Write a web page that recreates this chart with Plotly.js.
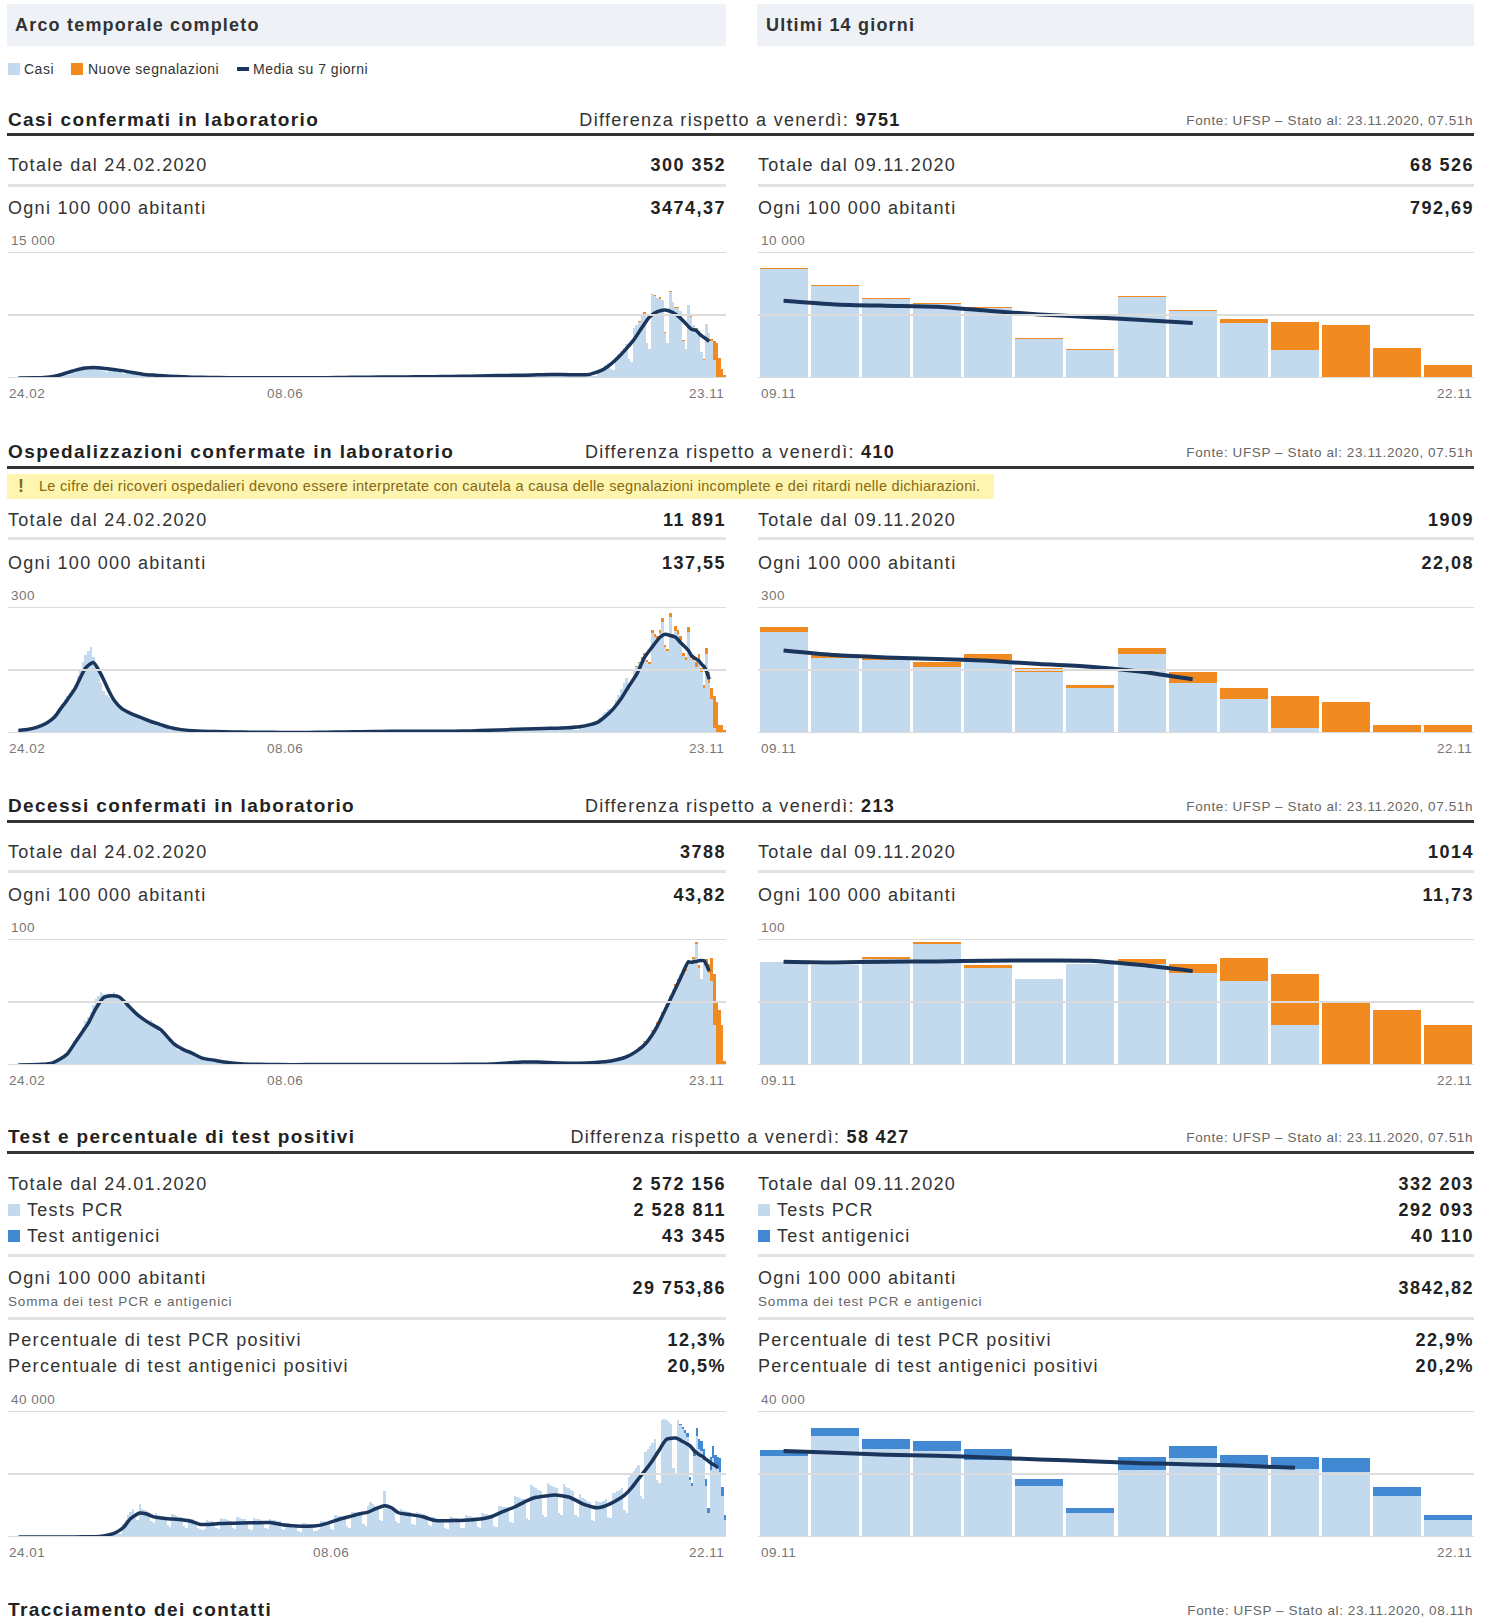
<!DOCTYPE html>
<html lang="it"><head><meta charset="utf-8">
<script src="https://cdn.plot.ly/plotly-3.0.1.min.js"></script>
<style>
html,body{margin:0;padding:0;background:#fff}
body{position:relative;width:1487px;height:1621px;overflow:hidden;font-family:'Liberation Sans',Arial,Helvetica,sans-serif;color:#333}
.a{position:absolute;white-space:nowrap}
.hdr{top:4px;height:42px;background:#eef2f6}
.ht{font-weight:bold;font-size:18px;line-height:22px;letter-spacing:1.2px;color:#333;top:14px}
.st{font-weight:bold;font-size:19px;line-height:22px;letter-spacing:1.4px;color:#222;left:8px}
.df{font-size:18px;line-height:22px;letter-spacing:1.3px;left:0;width:1480px;text-align:center;color:#333}
.df b{color:#222}
.src{font-size:13.5px;line-height:22px;letter-spacing:.6px;color:#666;right:14px}
.rule{left:7px;width:1467px;height:3px;background:#333}
.lb{font-size:18px;line-height:22px;letter-spacing:1.3px;color:#333}
.v{font-weight:bold;font-size:18px;line-height:22px;letter-spacing:1.5px;color:#222;text-align:right}
.vl{right:761px}
.vr{right:13px}
.L{left:8px}
.R{left:758px}
.sep{height:3px;background:#e3e3e3}
.sepL{left:8px;width:718px}
.sepR{left:758px;width:716px}
.sm{font-size:13.5px;line-height:18px;letter-spacing:.85px;color:#666}
.lg{font-size:14px;line-height:22px;letter-spacing:.5px;color:#333;top:58px}
.chart{position:absolute;height:174px}
.cL{left:8px;width:718px}
.cR{left:758px;width:716px}
.sq{width:12px;height:12px}
.warn{left:7px;top:474px;width:987px;height:25px;background:#fdf5b0}
.wt{font-size:14.5px;line-height:25px;letter-spacing:.3px;color:#876913;top:474px}
.annotation-text{letter-spacing:.5px}
</style>
</head>
<body>
<!-- headers -->
<div class="a hdr" style="left:7px;width:719px"></div>
<div class="a hdr" style="left:757px;width:717px"></div>
<div class="a ht" style="left:15px">Arco temporale completo</div>
<div class="a ht" style="left:766px">Ultimi 14 giorni</div>

<!-- legend -->
<div class="a sq" style="left:8px;top:63px;background:#c3d9ee"></div>
<div class="a lg" style="left:24px">Casi</div>
<div class="a sq" style="left:71px;top:63px;background:#f08a21"></div>
<div class="a lg" style="left:88px">Nuove segnalazioni</div>
<div class="a" style="left:237px;top:67px;width:12px;height:4px;background:#1b365d"></div>
<div class="a lg" style="left:253px">Media su 7 giorni</div>

<!-- Section 1 -->
<div class="a st" style="top:109px">Casi confermati in laboratorio</div>
<div class="a df" style="top:109px">Differenza rispetto a venerdì: <b>9751</b></div>
<div class="a src" style="top:110px">Fonte: UFSP – Stato al: 23.11.2020, 07.51h</div>
<div class="a rule" style="top:133px"></div>
<div class="a lb L" style="top:154px">Totale dal 24.02.2020</div>
<div class="a v vl" style="top:154px">300 352</div>
<div class="a lb R" style="top:154px">Totale dal 09.11.2020</div>
<div class="a v vr" style="top:154px">68 526</div>
<div class="a sep sepL" style="top:183.5px"></div>
<div class="a sep sepR" style="top:183.5px"></div>
<div class="a lb L" style="top:197px">Ogni 100 000 abitanti</div>
<div class="a v vl" style="top:197px">3474,37</div>
<div class="a lb R" style="top:197px">Ogni 100 000 abitanti</div>
<div class="a v vr" style="top:197px">792,69</div>
<div id="c1L" class="chart cL" style="top:230px"></div>
<div id="c1R" class="chart cR" style="top:230px"></div>

<!-- Section 2 -->
<div class="a st" style="top:441px">Ospedalizzazioni confermate in laboratorio</div>
<div class="a df" style="top:441px">Differenza rispetto a venerdì: <b>410</b></div>
<div class="a src" style="top:442px">Fonte: UFSP – Stato al: 23.11.2020, 07.51h</div>
<div class="a rule" style="top:466px"></div>
<div class="a warn"></div>
<div class="a wt" style="left:18px;font-weight:bold;font-size:18px">!</div>
<div class="a wt" style="left:39px">Le cifre dei ricoveri ospedalieri devono essere interpretate con cautela a causa delle segnalazioni incomplete e dei ritardi nelle dichiarazioni.</div>
<div class="a lb L" style="top:509px">Totale dal 24.02.2020</div>
<div class="a v vl" style="top:509px">11 891</div>
<div class="a lb R" style="top:509px">Totale dal 09.11.2020</div>
<div class="a v vr" style="top:509px">1909</div>
<div class="a sep sepL" style="top:537px"></div>
<div class="a sep sepR" style="top:537px"></div>
<div class="a lb L" style="top:551.5px">Ogni 100 000 abitanti</div>
<div class="a v vl" style="top:551.5px">137,55</div>
<div class="a lb R" style="top:551.5px">Ogni 100 000 abitanti</div>
<div class="a v vr" style="top:551.5px">22,08</div>
<div id="c2L" class="chart cL" style="top:585px"></div>
<div id="c2R" class="chart cR" style="top:585px"></div>

<!-- Section 3 -->
<div class="a st" style="top:794.5px">Decessi confermati in laboratorio</div>
<div class="a df" style="top:794.5px">Differenza rispetto a venerdì: <b>213</b></div>
<div class="a src" style="top:795.5px">Fonte: UFSP – Stato al: 23.11.2020, 07.51h</div>
<div class="a rule" style="top:819.5px"></div>
<div class="a lb L" style="top:841px">Totale dal 24.02.2020</div>
<div class="a v vl" style="top:841px">3788</div>
<div class="a lb R" style="top:841px">Totale dal 09.11.2020</div>
<div class="a v vr" style="top:841px">1014</div>
<div class="a sep sepL" style="top:870px"></div>
<div class="a sep sepR" style="top:870px"></div>
<div class="a lb L" style="top:883.5px">Ogni 100 000 abitanti</div>
<div class="a v vl" style="top:883.5px">43,82</div>
<div class="a lb R" style="top:883.5px">Ogni 100 000 abitanti</div>
<div class="a v vr" style="top:883.5px">11,73</div>
<div id="c3L" class="chart cL" style="top:917px"></div>
<div id="c3R" class="chart cR" style="top:917px"></div>

<!-- Section 4 -->
<div class="a st" style="top:1126px">Test e percentuale di test positivi</div>
<div class="a df" style="top:1126px">Differenza rispetto a venerdì: <b>58 427</b></div>
<div class="a src" style="top:1127px">Fonte: UFSP – Stato al: 23.11.2020, 07.51h</div>
<div class="a rule" style="top:1151px"></div>
<div class="a lb L" style="top:1172.5px">Totale dal 24.01.2020</div>
<div class="a v vl" style="top:1172.5px">2 572 156</div>
<div class="a lb R" style="top:1172.5px">Totale dal 09.11.2020</div>
<div class="a v vr" style="top:1172.5px">332 203</div>
<div class="a sq" style="left:8px;top:1203.5px;background:#c3d9ee"></div>
<div class="a lb" style="left:27px;top:1198.5px">Tests PCR</div>
<div class="a v vl" style="top:1198.5px">2 528 811</div>
<div class="a sq" style="left:758px;top:1203.5px;background:#c3d9ee"></div>
<div class="a lb" style="left:777px;top:1198.5px">Tests PCR</div>
<div class="a v vr" style="top:1198.5px">292 093</div>
<div class="a sq" style="left:8px;top:1229.5px;background:#4189d2"></div>
<div class="a lb" style="left:27px;top:1224.5px">Test antigenici</div>
<div class="a v vl" style="top:1224.5px">43 345</div>
<div class="a sq" style="left:758px;top:1229.5px;background:#4189d2"></div>
<div class="a lb" style="left:777px;top:1224.5px">Test antigenici</div>
<div class="a v vr" style="top:1224.5px">40 110</div>
<div class="a sep sepL" style="top:1253.5px"></div>
<div class="a sep sepR" style="top:1253.5px"></div>
<div class="a lb L" style="top:1267px">Ogni 100 000 abitanti</div>
<div class="a sm L" style="top:1292.5px">Somma dei test PCR e antigenici</div>
<div class="a v vl" style="top:1277px">29 753,86</div>
<div class="a lb R" style="top:1267px">Ogni 100 000 abitanti</div>
<div class="a sm R" style="top:1292.5px">Somma dei test PCR e antigenici</div>
<div class="a v vr" style="top:1277px">3842,82</div>
<div class="a sep sepL" style="top:1316.5px"></div>
<div class="a sep sepR" style="top:1316.5px"></div>
<div class="a lb L" style="top:1329px">Percentuale di test PCR positivi</div>
<div class="a v vl" style="top:1329px">12,3%</div>
<div class="a lb R" style="top:1329px">Percentuale di test PCR positivi</div>
<div class="a v vr" style="top:1329px">22,9%</div>
<div class="a lb L" style="top:1354.5px">Percentuale di test antigenici positivi</div>
<div class="a v vl" style="top:1354.5px">20,5%</div>
<div class="a lb R" style="top:1354.5px">Percentuale di test antigenici positivi</div>
<div class="a v vr" style="top:1354.5px">20,2%</div>
<div id="c4L" class="chart cL" style="top:1389px"></div>
<div id="c4R" class="chart cR" style="top:1389px"></div>

<!-- bottom -->
<div class="a st" style="top:1598.5px">Tracciamento dei contatti</div>
<div class="a src" style="top:1599.5px">Fonte: UFSP – Stato al: 23.11.2020, 08.11h</div>

<script>
// ===================== DATA =====================
// Casi (24.02.2020 - 23.11.2020), daily
const casiInizio = '2020-02-24';
const casiConfermati = [
1,0,1,5,8,10,12,
25,40,60,80,110,90,70,
250,300,350,450,550,400,350,
1100,1200,1300,1350,1400,1000,900,
1450,1350,1300,1250,1200,850,700,
1200,1100,1000,950,900,600,500,
800,700,650,600,500,350,300,
350,450,400,380,350,200,150,
300,250,230,200,180,100,80,
150,120,110,100,80,50,40,
90,80,70,60,55,30,25,
60,50,45,40,35,20,15,
40,35,30,30,25,15,12,
35,30,25,20,20,12,10,
25,30,25,22,20,12,10,
25,25,22,20,20,12,10,
30,30,28,25,25,15,12,
60,55,50,60,65,40,30,
110,100,120,110,100,60,50,
130,120,110,100,110,70,50,
150,140,120,130,120,80,60,
160,170,150,140,150,90,70,
200,190,180,170,160,100,80,
210,200,190,180,180,110,90,
250,240,230,220,210,130,100,
300,290,280,270,260,150,120,
380,370,350,320,300,170,130,
400,380,370,350,320,180,140,
480,450,430,420,400,220,170,
550,520,500,480,470,260,200,
500,480,460,450,420,240,180,
520,500,480,470,450,250,190,
900,1000,1200,1500,1800,1100,900,
2500,2800,3200,3600,4000,2300,1900,
6000,6300,6700,7500,7650,4200,3500,
10000,9780,9500,9400,9300,5350,4200,
10250,9000,8300,8300,8000,4350,3400,
8640,7307,6267,5867,5547,3067,2187,
6400,5307,4347,2187,0,0,0,
0];
const casiNuoveInizio = '2020-10-19';
const casiNuove = [
0,0,100,0,150,0,0,
0,120,0,200,0,150,0,
150,0,200,100,0,150,100,
80,80,80,80,80,80,80,
80,80,320,2240,4187,2347,1067,
300];
const casiMediaGiorni = ['2020-02-24','2020-03-01','2020-03-05','2020-03-09','2020-03-12','2020-03-15','2020-03-18','2020-03-21','2020-03-24','2020-03-27','2020-03-31','2020-04-04','2020-04-08','2020-04-12','2020-04-16','2020-04-20','2020-04-25','2020-05-01','2020-05-08','2020-05-15','2020-05-22','2020-05-29','2020-06-05','2020-06-12','2020-06-19','2020-06-26','2020-07-02','2020-07-09','2020-07-16','2020-07-23','2020-07-30','2020-08-06','2020-08-13','2020-08-20','2020-08-27','2020-09-03','2020-09-10','2020-09-17','2020-09-24','2020-10-01','2020-10-04','2020-10-07','2020-10-10','2020-10-13','2020-10-16','2020-10-19','2020-10-22','2020-10-25','2020-10-28','2020-10-31','2020-11-03','2020-11-06','2020-11-09','2020-11-10','2020-11-11','2020-11-12','2020-11-13','2020-11-14','2020-11-15','2020-11-16','2020-11-17'];
const casiMedia = [5,30,70,220,450,750,1000,1180,1250,1200,1050,880,650,460,350,270,180,100,60,40,28,22,20,19,25,50,85,100,115,133,155,170,200,240,290,315,370,420,395,400,650,1000,1650,2500,3500,4600,6000,7300,7900,8100,7800,7100,6133,5840,5733,5653,5333,5040,4827,4613,4373];

// Ospedalizzazioni
const ospInizio = '2020-02-24';
const ospConfermate = [
4,5,6,8,9,10,11,
14,16,20,24,28,30,34,
45,52,60,68,80,88,95,
105,115,135,150,170,185,195,
205,180,160,150,120,100,90,
85,80,75,70,65,55,50,
52,48,45,42,40,35,32,
34,30,28,26,24,20,18,
18,16,14,12,11,9,8,
8,7,6,5,5,4,3,
5,5,4,4,4,3,3,
4,4,3,3,3,2,2,
3,3,2,2,2,1,1,
3,2,2,2,1,1,1,
2,2,1,2,1,1,1,
2,1,1,2,1,1,1,
2,2,1,2,1,1,1,
2,2,2,3,2,1,1,
3,3,3,2,3,2,2,
4,4,3,3,4,2,2,
5,4,5,4,4,3,2,
5,5,4,4,5,3,3,
6,5,5,4,4,3,3,
5,5,4,4,5,3,3,
5,5,6,5,4,3,3,
6,6,6,5,6,4,3,
8,7,8,9,7,5,4,
10,9,8,10,9,6,5,
12,11,10,12,10,7,6,
13,12,14,11,12,8,7,
14,13,15,12,11,8,8,
16,18,20,22,25,24,26,
32,38,45,50,58,56,60,
78,90,105,118,130,120,125,
148,156,167,175,186,169,165,
237,229,225,238,265,204,195,
277,229,243,235,222,184,173,
241,179,175,158,174,146,108,
189,118,82,13,2,1,0,
0];
const ospNuoveInizio = '2020-10-19';
const ospNuove = [
2,4,3,5,4,6,5,
8,6,5,7,10,6,5,
8,6,12,10,8,6,7,
12,7,7,10,13,9,7,
14,28,24,76,73,19,18,
8];
const ospMediaGiorni = ['2020-02-24','2020-02-28','2020-03-02','2020-03-06','2020-03-09','2020-03-11','2020-03-14','2020-03-17','2020-03-21','2020-03-24','2020-03-27','2020-03-30','2020-04-01','2020-04-04','2020-04-07','2020-04-10','2020-04-15','2020-04-19','2020-04-22','2020-04-27','2020-05-03','2020-05-10','2020-05-17','2020-05-24','2020-06-01','2020-06-08','2020-06-15','2020-06-22','2020-06-29','2020-07-06','2020-07-13','2020-07-20','2020-07-27','2020-08-03','2020-08-10','2020-08-17','2020-08-24','2020-08-31','2020-09-07','2020-09-14','2020-09-21','2020-09-28','2020-10-02','2020-10-05','2020-10-08','2020-10-11','2020-10-14','2020-10-17','2020-10-20','2020-10-23','2020-10-26','2020-10-29','2020-10-31','2020-11-02','2020-11-04','2020-11-06','2020-11-09','2020-11-10','2020-11-11','2020-11-12','2020-11-13','2020-11-14','2020-11-15','2020-11-16','2020-11-17'];
const ospMedia = [6,9,13.5,24,38,55,80,107,155,168,139,100,78,58,48,40,28,20,14,8,4.5,3.5,2.5,2,1.5,1.3,1.4,1.8,2.5,3.2,3.8,4.2,4.3,4.2,4.4,5,6.5,8,9.5,11,12,15,20,26,40,58,82,112,140,180,205,228,235,232,228,215,196.5,185.5,180,176,172,164,158,146,128];

// Decessi
const decInizio = '2020-02-24';
const decConfermati = [
0,0,0,0,0,0,0,
0,0,1,0,1,2,1,
2,3,4,5,6,8,10,
14,18,22,25,30,35,38,
42,48,52,55,58,56,54,
57,55,58,56,52,50,48,
50,47,45,43,40,38,36,
35,33,36,32,30,28,26,
25,22,20,18,16,14,12,
12,11,10,9,8,7,6,
6,5,5,4,4,3,3,
3,3,2,2,3,2,1,
2,1,1,1,1,1,0,
1,0,1,0,0,1,0,
0,1,0,0,1,0,0,
0,0,1,0,0,0,1,
0,1,0,0,0,0,0,
1,0,0,1,0,0,0,
0,0,1,0,0,1,0,
0,1,0,0,1,0,0,
1,0,0,1,0,0,0,
0,1,0,0,0,1,0,
0,0,1,0,1,0,0,
1,0,0,0,1,0,0,
0,1,0,1,0,0,0,
1,0,1,0,0,1,0,
1,2,1,1,2,1,0,
2,3,2,4,2,2,1,
3,2,3,2,3,2,2,
2,1,2,1,2,1,2,
1,2,1,2,1,1,1,
2,1,2,3,2,1,2,
2,3,3,4,3,4,3,
5,6,6,7,8,7,8,
10,12,13,16,18,21,23,
27,30,32,38,41,43,48,
53,60,63,65,72,72,75,
82,79,84,96,77,68,80,
80,73,67,32,1,0,0,
0];
const decNuoveInizio = '2020-10-19';
const decNuove = [
0,0,1,0,1,0,0,
1,0,2,0,1,2,0,
2,0,1,3,0,2,1,
0,0,2,2,2,0,0,
4,7,18,40,49,44,32,
3];
const decMediaGiorni = ['2020-02-24','2020-03-04','2020-03-08','2020-03-11','2020-03-14','2020-03-17','2020-03-20','2020-03-22','2020-03-25','2020-03-28','2020-03-31','2020-04-03','2020-04-07','2020-04-10','2020-04-14','2020-04-19','2020-04-24','2020-04-28','2020-05-01','2020-05-05','2020-05-10','2020-05-15','2020-05-20','2020-05-27','2020-06-03','2020-06-15','2020-07-01','2020-07-15','2020-08-01','2020-08-15','2020-08-25','2020-09-01','2020-09-06','2020-09-12','2020-09-20','2020-09-28','2020-10-04','2020-10-10','2020-10-16','2020-10-20','2020-10-23','2020-10-26','2020-10-28','2020-11-01','2020-11-05','2020-11-07','2020-11-09','2020-11-10','2020-11-11','2020-11-12','2020-11-13','2020-11-14','2020-11-15','2020-11-16','2020-11-17'];
const decMedia = [0,0.5,1.5,4.5,9,18,27,33,45,53.6,55,54,46,40,34,28,17,12,9.5,5.5,3.7,2,1,0.5,0.3,0.3,0.3,0.4,0.4,0.5,0.8,1.8,2.4,2.4,1.6,1.4,2,3.2,6.4,11,16,24,31,48,65,74,82,81.4,82,82.2,82.8,83,82.8,79.3,74.5];

// Test (24.01.2020 - 22.11.2020)
const testInizio = '2020-01-24';
const testPCR = [
0,0,0,
0,0,1,0,0,0,0,
1,0,2,1,1,0,0,
2,3,2,4,3,1,1,
10,15,20,25,30,10,8,
50,80,120,180,250,150,120,
600,800,1000,1300,1600,1000,900,
4000,5500,7000,8000,9000,6000,5500,
10500,9000,8500,8200,8000,5000,4500,
7500,7000,6800,6600,6500,3800,3300,
7200,7000,6800,6500,6200,3500,3000,
6000,5800,5600,5000,3000,2500,2200,
2500,5500,5200,5000,4800,3000,2600,
6000,5800,5600,5400,5200,2800,2400,
6200,6000,5800,5600,5000,2600,2200,
6000,5800,5600,5500,5200,2800,2400,
5800,5500,5300,5200,5000,2600,2200,
4600,4400,4200,3000,3200,1800,1600,
4500,4300,4200,4000,3900,2000,1800,
2500,5200,5000,4900,4800,2500,2200,
7000,6800,6600,6500,6400,3500,3000,
8000,7800,7700,7600,7500,4000,3600,
10000,11000,10500,10000,9800,5500,5000,
14500,10500,10000,9500,9000,5000,4500,
9000,8500,8200,8000,7800,4200,3800,
8000,7600,7400,7200,7000,3800,3400,
6200,6000,5800,5700,5500,3000,2700,
6500,6300,6100,6000,5800,3000,2800,
7000,6800,6600,6500,6300,3300,3000,
7600,7400,7200,7000,6800,3600,3300,
10000,9800,9600,9400,9200,4800,4300,
13000,12800,12500,12200,12000,6000,5500,
16500,16000,15500,15000,14500,7000,6500,
17000,16500,16200,15800,15500,7500,7000,
16800,16000,15500,15000,14500,7000,6500,
13500,12500,12000,11500,11000,5500,5000,
11500,11000,11000,11500,12000,6500,6000,
14000,14000,14500,15000,15500,8500,7500,
19000,20000,21000,22000,23000,13000,12000,
27000,28000,29000,30000,31000,18000,17000,
37000,37500,37000,36500,36000,22000,20000,
37000,35700,34400,33100,31800,18000,16200,
25570,32042,27904,27268,24403,16127,7533,
21220,25040,22918,21538,20583,12944,5305];
const testAntigeniciInizio = '2020-11-02';
const testAntigenici = [
0,300,600,900,1200,1000,800,
2016,2547,3183,3183,3501,2228,1592,
4138,3819,3077,3820,4457,2865,1592];
const testMediaGiorni = ['2020-01-24','2020-02-10','2020-02-17','2020-02-24','2020-02-28','2020-03-03','2020-03-06','2020-03-09','2020-03-12','2020-03-16','2020-03-19','2020-03-22','2020-03-27','2020-04-03','2020-04-07','2020-04-11','2020-04-15','2020-04-19','2020-04-25','2020-05-02','2020-05-11','2020-05-17','2020-05-22','2020-05-27','2020-06-01','2020-06-05','2020-06-10','2020-06-14','2020-06-18','2020-06-22','2020-06-25','2020-06-29','2020-07-02','2020-07-05','2020-07-09','2020-07-15','2020-07-21','2020-07-28','2020-08-04','2020-08-10','2020-08-14','2020-08-18','2020-08-24','2020-08-29','2020-09-02','2020-09-06','2020-09-10','2020-09-13','2020-09-16','2020-09-19','2020-09-22','2020-09-25','2020-09-28','2020-10-01','2020-10-04','2020-10-07','2020-10-10','2020-10-13','2020-10-16','2020-10-19','2020-10-22','2020-10-25','2020-10-28','2020-11-01','2020-11-04','2020-11-07','2020-11-09','2020-11-10','2020-11-11','2020-11-12','2020-11-13','2020-11-14','2020-11-15','2020-11-16','2020-11-17','2020-11-18','2020-11-19'];
const testMedia = [0,2,15,80,150,700,1500,3000,5800,7600,7300,6400,5900,5500,5000,4000,4000,4300,4400,4500,4600,3800,3500,3400,3700,4500,5700,6500,7300,7900,8900,9900,9300,7700,7200,6500,5200,5200,5400,5800,6500,7800,9600,11500,12600,13000,13300,13100,12700,11700,10500,9800,9300,9700,10600,11800,13300,15600,18500,21300,24300,27800,31000,31400,30300,29000,27268,26737,26101,25782,25252,24615,24085,23448,23024,22600,21963];

// ===================== DRAWING =====================
const FONT = "'Liberation Sans', Arial, sans-serif";
const C_BLUE = '#c3d9ee', C_ORANGE = '#f08a21', C_NAVY = '#1b365d', C_ANTI = '#4189d2', C_GRID = '#dcdcdc', C_TXT = '#777';
const ULTIMI_DA = '2020-11-09';

function dayList(start, n){
  const t0 = Date.parse(start + 'T00:00:00Z'), out = [];
  for (let i = 0; i < n; i++) out.push(new Date(t0 + i*864e5).toISOString().slice(0,10));
  return out;
}
function shiftDays(start, k){
  return new Date(Date.parse(start + 'T00:00:00Z') + k*864e5).toISOString().slice(0,19).replace('T',' ');
}
function ddmm(s){ return s.slice(8,10) + '.' + s.slice(5,7); }
function ann(text, x, xref, xanchor, y, yanchor, yshift, xshift){
  return {text:text, x:x, xref:xref, xanchor:xanchor, y:y, yref:'paper', yanchor:yanchor, yshift:yshift, xshift:xshift||0,
          showarrow:false, font:{family:FONT, size:13.5, color:C_TXT}};
}
function grid(ymax){
  return [0, ymax/2, ymax].map(v => ({type:'line', xref:'paper', x0:0, x1:1, yref:'y', y0:v, y1:v, layer:'above', line:{color:C_GRID, width:2}}));
}
function layoutFor(w, ymax, xaxis, anns, bargap){
  return {width:w, height:174, margin:{l:0, r:0, t:22, b:26, pad:0},
    paper_bgcolor:'rgba(0,0,0,0)', plot_bgcolor:'rgba(0,0,0,0)', barmode:'stack', bargap:bargap, showlegend:false,
    xaxis:xaxis,
    yaxis:{range:[0, ymax], showgrid:false, zeroline:false, showticklabels:false, showline:false, ticks:'', fixedrange:true},
    shapes:grid(ymax), annotations:anns, font:{family:FONT}, hovermode:false};
}
const cfg = {staticPlot:true, displayModeBar:false};

function longChart(id, start, base, extraStart, extra, extraColor, mDates, mVals, ymax, yLabel, preDays, midDate, lastLabel){
  const x = dayList(start, base.length);
  const xe = dayList(extraStart, extra.length);
  const traces = [
    {type:'bar', x:x, y:base, marker:{color:C_BLUE, line:{width:0}}},
    {type:'bar', x:xe, y:extra, marker:{color:extraColor, line:{width:0}}},
    {type:'scatter', mode:'lines', x:mDates, y:mVals, line:{color:C_NAVY, width:3.5, shape:'spline', smoothing:0.6}}
  ];
  const xaxis = {type:'date', range:[shiftDays(start, -preDays), shiftDays(start, base.length - 0.5)],
    showgrid:false, zeroline:false, showticklabels:false, showline:false, ticks:'', fixedrange:true};
  const anns = [
    ann(yLabel, 0, 'paper', 'left', 1, 'bottom', 2, 1),
    ann(ddmm(start), 0, 'paper', 'left', 0, 'top', -6, -1),
    ann(ddmm(midDate), midDate, 'x', 'center', 0, 'top', -6, -5),
    ann(lastLabel, 1, 'paper', 'right', 0, 'top', -6, 0)
  ];
  Plotly.newPlot(id, traces, layoutFor(718, ymax, xaxis, anns, 0), cfg);
}

function shortChart(id, start, base, extraStart, extra, extraColor, mDates, mVals, ymax, yLabel){
  const x = dayList(start, base.length);
  const xe = dayList(extraStart, extra.length);
  const i0 = x.indexOf(ULTIMI_DA), j0 = xe.indexOf(ULTIMI_DA);
  const giorni = x.slice(i0, i0 + 14);
  const cats = giorni.map(ddmm);
  const b = base.slice(i0, i0 + 14);
  const e = extra.slice(j0, j0 + 14);
  const mx = [], my = [];
  mDates.forEach((d, k) => { const p = giorni.indexOf(d); if (p >= 0) { mx.push(cats[p]); my.push(mVals[k]); } });
  const traces = [
    {type:'bar', x:cats, y:b, marker:{color:C_BLUE, line:{width:0}}},
    {type:'bar', x:cats, y:e, marker:{color:extraColor, line:{width:0}}},
    {type:'scatter', mode:'lines', x:mx, y:my, line:{color:C_NAVY, width:4, shape:'spline', smoothing:0.5}}
  ];
  const xaxis = {type:'category', range:[-0.5, 13.5], showgrid:false, zeroline:false, showticklabels:false, showline:false, ticks:'', fixedrange:true};
  const anns = [
    ann(yLabel, 0, 'paper', 'left', 1, 'bottom', 2, 1),
    ann(cats[0], 0, 'paper', 'left', 0, 'top', -6, 1),
    ann(cats[cats.length-1], 1, 'paper', 'right', 0, 'top', -6, 0)
  ];
  Plotly.newPlot(id, traces, layoutFor(716, ymax, xaxis, anns, 0.06), cfg);
}

longChart('c1L', casiInizio, casiConfermati, casiNuoveInizio, casiNuove, C_ORANGE, casiMediaGiorni, casiMedia, 15000, '15 000', 4, '2020-06-08', '23.11');
shortChart('c1R', casiInizio, casiConfermati, casiNuoveInizio, casiNuove, C_ORANGE, casiMediaGiorni, casiMedia, 10000, '10 000');
longChart('c2L', ospInizio, ospConfermate, ospNuoveInizio, ospNuove, C_ORANGE, ospMediaGiorni, ospMedia, 300, '300', 4, '2020-06-08', '23.11');
shortChart('c2R', ospInizio, ospConfermate, ospNuoveInizio, ospNuove, C_ORANGE, ospMediaGiorni, ospMedia, 300, '300');
longChart('c3L', decInizio, decConfermati, decNuoveInizio, decNuove, C_ORANGE, decMediaGiorni, decMedia, 100, '100', 4, '2020-06-08', '23.11');
shortChart('c3R', decInizio, decConfermati, decNuoveInizio, decNuove, C_ORANGE, decMediaGiorni, decMedia, 100, '100');
longChart('c4L', testInizio, testPCR, testAntigeniciInizio, testAntigenici, C_ANTI, testMediaGiorni, testMedia, 40000, '40 000', 4.5, '2020-06-08', '22.11');
shortChart('c4R', testInizio, testPCR, testAntigeniciInizio, testAntigenici, C_ANTI, testMediaGiorni, testMedia, 40000, '40 000');
</script>
</body></html>
